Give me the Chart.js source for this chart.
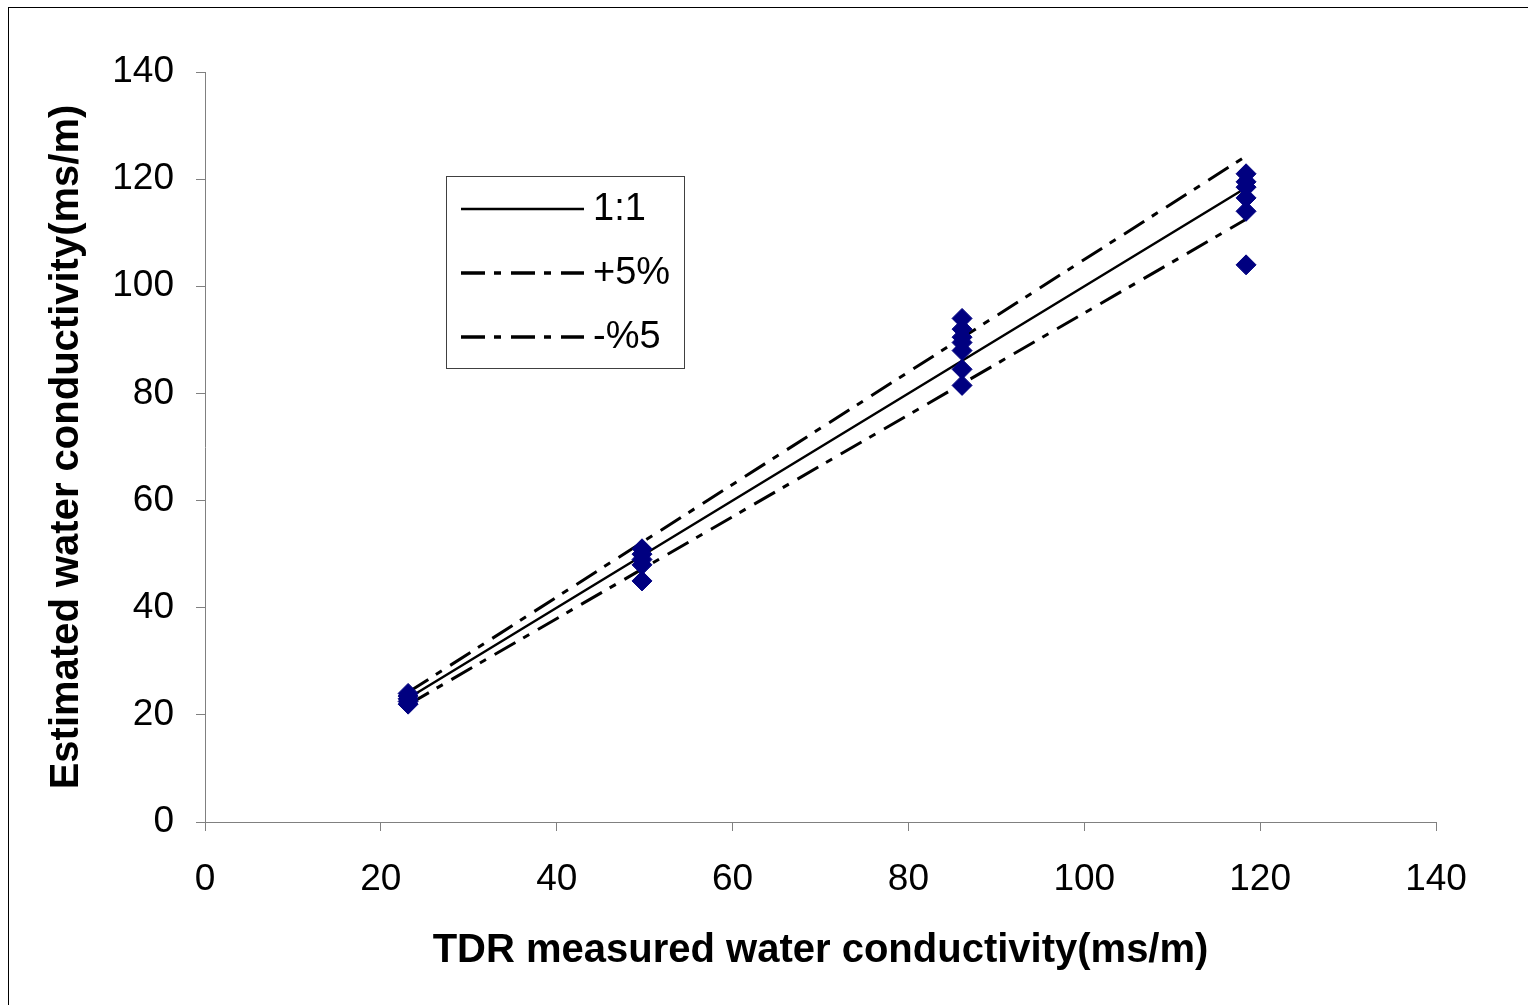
<!DOCTYPE html>
<html>
<head>
<meta charset="utf-8">
<script src="https://cdn.jsdelivr.net/npm/chart.js@4/dist/chart.umd.min.js"></script>
<style>
    html, body { margin: 0; padding: 0; background: #fff; overflow: hidden; }
    #wrap { width: 1528px; height: 1005px; position: relative; }
</style>
</head>
<body>
<div id="wrap"><canvas id="chart" width="1528" height="1005"></canvas></div>
<script>
// measured (TDR) positions of the four sample groups
const measuredX = [23.1, 49.7, 86.1, 118.4];

// estimated values at each group
const est23 = [24, 23.5, 23, 22.5, 22];
const est50 = [51, 50, 49, 48, 45];
const est86 = [94, 92, 90.5, 89.5, 88, 84.5, 81.5];
const est118 = [121, 119.5, 118.5, 116.5, 114, 104];

// reference lines
const oneToOne = [23.1, 49.7, 86.1, 118.4];
const plus5 = [24.2, 52.2, 90.4, 124.3];
const minus5 = [21.9, 47.2, 81.8, 112.5];

const ticksX = [0, 20, 40, 60, 80, 100, 120, 140];
const ticksY = [0, 20, 40, 60, 80, 100, 120, 140];

const legendLabels = ['1:1', '+5%', '-%5'];

const FONT = "Arial, 'Liberation Sans', sans-serif";
const DASH = [24, 9, 7, 10];

function toPoints(xs, ys) {
    return xs.map((x, i) => ({ x: x, y: ys[i] }));
}

const groups = [est23, est50, est86, est118];
const scatterPts = [];
groups.forEach((g, i) => {
    g.forEach(v => scatterPts.push({ x: measuredX[i], y: v }));
});

const framePlugin = {
    id: 'frameAndLegend',
    afterDraw(chart) {
        const ctx = chart.ctx;
        ctx.save();
        // outer frame
        ctx.strokeStyle = '#000';
        ctx.lineWidth = 1;
        ctx.strokeRect(8.5, 7.5, 3000, 3000);

        // legend box
        ctx.fillStyle = '#fff';
        ctx.fillRect(446, 176, 238, 192);
        ctx.strokeStyle = '#404040';
        ctx.strokeRect(446.5, 176.5, 238, 192);

        const rows = [209, 273, 337];
        ctx.font = '38px ' + FONT;
        ctx.textBaseline = 'middle';
        ctx.fillStyle = '#000';
        rows.forEach((y, i) => {
            ctx.beginPath();
            ctx.strokeStyle = '#000';
            if (i === 0) {
                ctx.lineWidth = 2.5;
                ctx.setLineDash([]);
            } else {
                ctx.lineWidth = 3.5;
                ctx.setLineDash(DASH);
            }
            ctx.moveTo(461, y);
            ctx.lineTo(584, y);
            ctx.stroke();
            ctx.setLineDash([]);
            ctx.fillText(legendLabels[i], 593, y + 1);
        });
        ctx.restore();
    }
};

const axisCommon = {
    type: 'linear',
    min: 0,
    max: 140,
    border: { display: true, color: '#808080', width: 1 },
    grid: { drawOnChartArea: false, drawTicks: true, tickLength: 9, color: '#808080' }
};

new Chart(document.getElementById('chart'), {
    type: 'scatter',
    data: {
        datasets: [
            {
                label: 'data',
                data: scatterPts,
                pointStyle: 'rectRot',
                pointRadius: 10,
                backgroundColor: '#000080',
                borderColor: '#000080',
                borderWidth: 1,
                showLine: false
            },
            {
                label: legendLabels[0],
                data: toPoints(measuredX, oneToOne),
                showLine: true,
                borderColor: '#000',
                borderWidth: 2.5,
                pointRadius: 0
            },
            {
                label: legendLabels[1],
                data: toPoints(measuredX, plus5),
                showLine: true,
                borderColor: '#000',
                borderWidth: 3,
                borderDash: DASH,
                pointRadius: 0
            },
            {
                label: legendLabels[2],
                data: toPoints(measuredX, minus5),
                showLine: true,
                borderColor: '#000',
                borderWidth: 3,
                borderDash: DASH,
                pointRadius: 0
            }
        ]
    },
    options: {
        responsive: false,
        animation: false,
        layout: { padding: { left: 0, top: 72, right: 92, bottom: 0 } },
        plugins: {
            legend: { display: false },
            tooltip: { enabled: false }
        },
        scales: {
            x: {
                ...axisCommon,
                afterBuildTicks: (s) => { s.ticks = ticksX.map(v => ({ value: v })); },
                afterFit: (s) => { s.height = 183; },
                ticks: { color: '#000', font: { family: FONT, size: 37 }, padding: 27, maxRotation: 0 },
                title: {
                    display: true,
                    text: 'TDR measured water conductivity(ms/m)',
                    color: '#000',
                    font: { family: FONT, size: 40, weight: 'bold' },
                    padding: { top: 0, bottom: 30 }
                }
            },
            y: {
                ...axisCommon,
                afterBuildTicks: (s) => { s.ticks = ticksY.map(v => ({ value: v })); },
                afterFit: (s) => { s.width = 205; },
                ticks: { color: '#000', font: { family: FONT, size: 37 }, padding: 22 },
                title: {
                    display: true,
                    text: 'Estimated water conductivity(ms/m)',
                    color: '#000',
                    font: { family: FONT, size: 40, weight: 'bold' },
                    padding: { top: 43, bottom: 0 }
                }
            }
        }
    },
    plugins: [framePlugin]
});
</script>
</body>
</html>
